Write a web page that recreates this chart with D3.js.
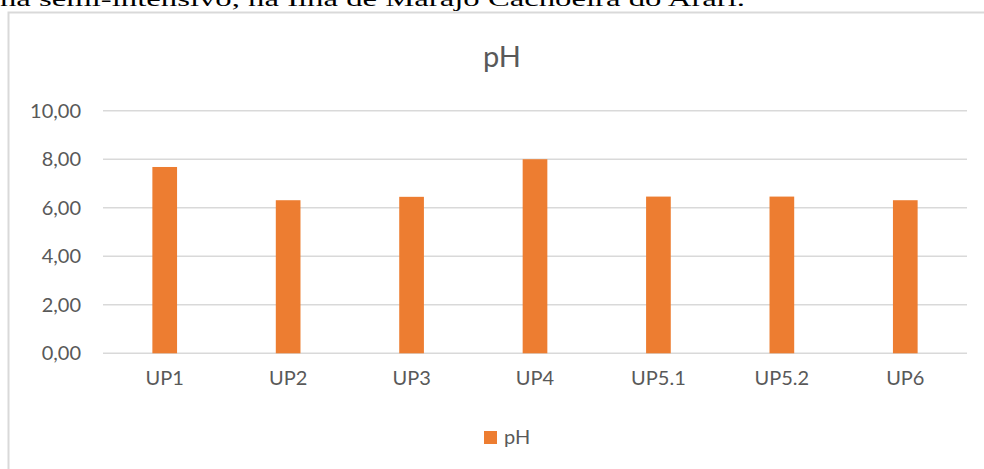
<!DOCTYPE html>
<html><head><meta charset="utf-8">
<script src="https://cdn.jsdelivr.net/npm/d3@7"></script>
<style>html,body{margin:0;padding:0;background:#fff;overflow:hidden}</style>
</head><body>
<svg id="c" width="984" height="469"></svg>
<script>
const categories = ["UP1","UP2","UP3","UP4","UP5.1","UP5.2","UP6"];
const phValues = [7.68, 6.31, 6.45, 8.0, 6.46, 6.46, 6.31];
const yTicks = [0, 2, 4, 6, 8, 10];
const seriesName = "pH";
const chartTitle = "pH";
const captionText = "na semi-intensivo, na Ilha de Marajó Cachoeira do Arari.";

const svg = d3.select("#c");
const font = "Lato, 'Open Sans', sans-serif";
const textColor = "#595959";
const gridColor = "#D9D9D9";
const barColor = "#ED7D31";

// caption from document (clipped at top)
svg.append("text").attr("x", 0).attr("y", 6)
  .attr("font-family", "'Liberation Serif', 'DejaVu Serif', serif")
  .attr("font-size", 22).attr("fill", "#000")
  .attr("textLength", 745).attr("lengthAdjust", "spacingAndGlyphs")
  .text(captionText);

// chart area border
svg.append("path").attr("d", "M8.5,469 L8.5,12.5 L984,12.5")
  .attr("fill", "none").attr("stroke", gridColor).attr("stroke-width", 2);

const x = d3.scaleBand().domain(categories).range([103, 967]).paddingInner(0.8).paddingOuter(0.4);
const y = d3.scaleLinear().domain([0, 10]).range([353.3, 110.7]);

// gridlines
svg.append("g").selectAll("line").data(yTicks).join("line")
  .attr("x1", 103).attr("x2", 967)
  .attr("y1", d => y(d)).attr("y2", d => y(d))
  .attr("stroke", gridColor).attr("stroke-width", 1.5);

// y axis labels
const yAxis = d3.axisLeft(y).tickValues(yTicks).tickSize(0).tickPadding(0)
  .tickFormat(d => d3.format(".2f")(d).replace(".", ","));
const gy = svg.append("g").attr("transform", "translate(81,0)").call(yAxis);
gy.select(".domain").remove();
gy.selectAll("text").attr("font-family", font).attr("font-size", 20).attr("fill", textColor);

// bars
svg.append("g").selectAll("rect").data(categories).join("rect")
  .attr("x", d => x(d)).attr("width", x.bandwidth())
  .attr("y", (d, i) => y(phValues[i]))
  .attr("height", (d, i) => y(0) - y(phValues[i]))
  .attr("fill", barColor);

// x axis labels
const xAxis = d3.axisBottom(x).tickSize(0).tickPadding(0);
const gx = svg.append("g").attr("transform", "translate(0,371)").call(xAxis);
gx.select(".domain").remove();
gx.selectAll("text").attr("font-family", font).attr("font-size", 20).attr("fill", textColor);

// title
svg.append("text").attr("x", 502).attr("y", 67).attr("text-anchor", "middle")
  .attr("font-family", font).attr("font-size", 29).attr("fill", textColor).text(chartTitle);

// legend
svg.append("rect").attr("x", 484).attr("y", 431).attr("width", 13).attr("height", 13).attr("fill", barColor);
svg.append("text").attr("x", 504).attr("y", 444).attr("font-family", font).attr("font-size", 20)
  .attr("fill", textColor).text(seriesName);
</script>
</body></html>
